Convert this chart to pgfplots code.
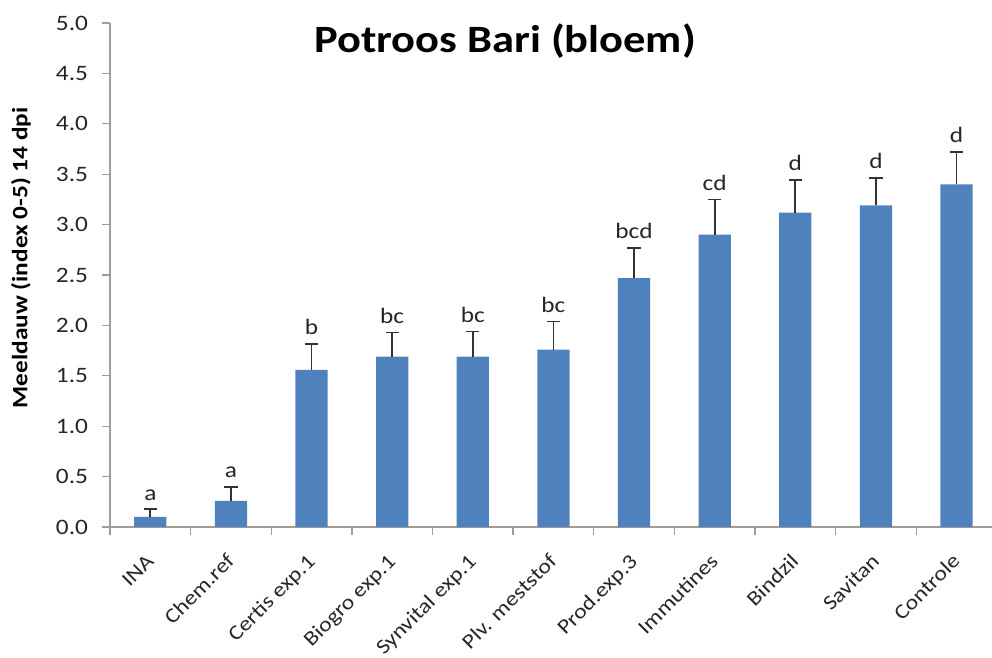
\documentclass[border=0pt]{standalone}
\usepackage{fontspec}
\setmainfont{Carlito}[FakeStretch=1.15]
\usepackage{pgfplots}
\usepackage{pgfplotstable}
\pgfplotsset{compat=1.18}
\definecolor{barblue}{RGB}{79,129,189}
\definecolor{axgray}{RGB}{165,155,150}

\pgfplotstableread{
x val err lab
0 0.10 0.075 a
1 0.26 0.14 a
2 1.56 0.255 b
3 1.69 0.24 bc
4 1.69 0.25 bc
5 1.76 0.28 bc
6 2.47 0.295 bcd
7 2.90 0.35 cd
8 3.12 0.32 d
9 3.19 0.27 d
10 3.40 0.32 d
}\scores

\pgfplotstableread{
x top lab
0 0.175 a
1 0.40 a
2 1.815 b
3 1.93 bc
4 1.94 bc
5 2.04 bc
6 2.765 bcd
7 3.25 cd
8 3.44 d
9 3.46 d
10 3.72 d
}\letters

\begin{document}
\begin{tikzpicture}
\begin{axis}[
    name=ax,
    scale only axis,
    width=661.5pt, height=378pt,
    xmin=-0.5, xmax=10.44,
    ymin=0, ymax=5,
    axis x line*=bottom,
    axis y line*=left,
    axis line style={axgray, line width=1pt},
    clip=false,
    xtick={0,...,10},
    xticklabels={INA, Chem.ref, Certis exp.1, Biogro exp.1, Synvital exp.1, Plv. meststof, Prod.exp.3, Immutines, Bindzil, Savitan, Controle},
    minor xtick={-0.5,0.5,...,9.5},
    major x tick style={draw=none},
    minor x tick style={axgray, line width=1pt},
    minor tick length=6pt,
    ytick={0,0.5,...,5},
    y tick style={axgray, line width=1pt},
    major tick length=6pt,
    tick align=outside,
    /pgf/number format/assume math mode=true,
    yticklabel={\pgfmathprintnumber[fixed, fixed zerofill, precision=1]{\tick}},
    yticklabel style={font=\fontsize{16.5}{19}\selectfont, text=black!85, xshift=-7pt},
    xticklabel style={font=\fontsize{15.5}{18}\selectfont, text=black!85, xshift=3.5pt, yshift=-20.5pt, rotate=45, anchor=base east, inner sep=0pt},
    ylabel={Meeldauw (index 0-5) 14 dpi},
    every axis y label/.style={at={(axis description cs:-0.101,0.534)}, rotate=90, anchor=center, font=\bfseries\fontsize{16.5}{19}\selectfont},
]
\addplot[ybar, bar shift=0pt, bar width=0.4, fill=barblue, draw=none,
    error bars/.cd, y dir=plus, y explicit, error mark=none,
    error bar style={draw=black!80, line width=1.3pt}]
    table[x=x, y=val, y error=err] {\scores};
% caps of the error bars
\addplot[only marks, mark=-, mark size=5pt, mark options={draw=black!80, line width=1.3pt}]
    table[x=x, y=top] {\letters};
\addplot[draw=none, mark=none, nodes near coords, point meta=explicit symbolic,
    nodes near coords style={anchor=base, yshift=7pt, inner sep=0pt, font=\fontsize{16.5}{19}\selectfont, text=black!85}]
    table[x=x, y=top, meta=lab] {\letters};
\node[font=\bfseries\fontsize{29}{34}\selectfont, anchor=base] at (axis cs:4.4,4.71) {Potroos Bari (bloem)};
\end{axis}
\pgfresetboundingbox
\path[use as bounding box] (ax.south west) ++(-82.5pt,-97.5pt) rectangle ++(744pt,492.75pt);
\end{tikzpicture}
\end{document}
